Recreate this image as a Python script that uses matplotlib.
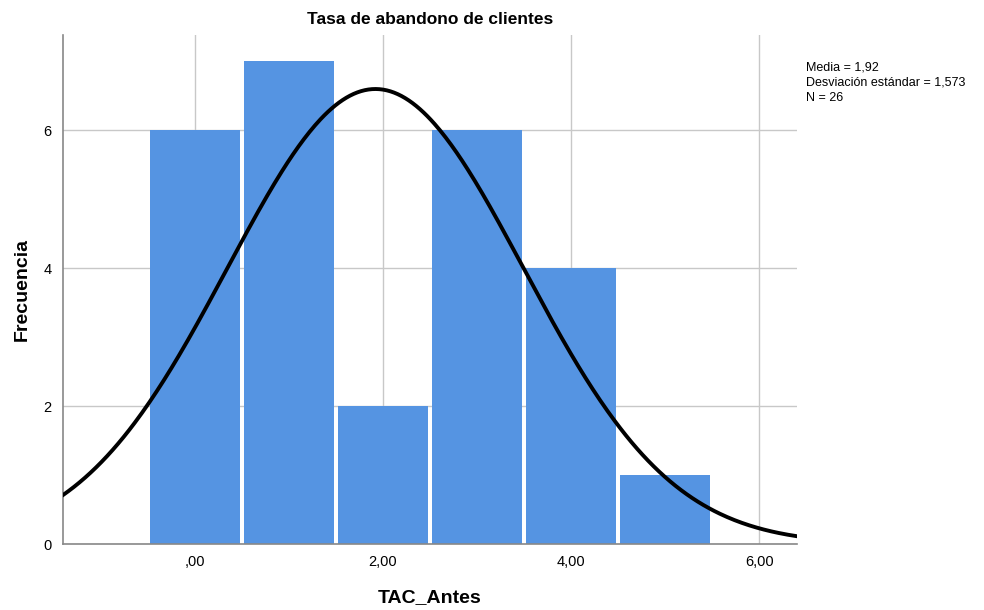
import numpy as np
import matplotlib
matplotlib.use("Agg")
import matplotlib.pyplot as plt

plt.rcParams["font.family"] = ["Liberation Sans", "DejaVu Sans"]

# histogram data (TAC_Antes)
bin_centers = [0, 1, 2, 3, 4, 5]
counts = [6, 7, 2, 6, 4, 1]
media = 1.92
desv = 1.573
n = 26

x_ticks = [0, 2, 4, 6]
x_labels = [",00", "2,00", "4,00", "6,00"]
y_ticks = [0, 2, 4, 6]

fig = plt.figure(figsize=(9.84, 6.10), dpi=100)
ax = fig.add_axes([0.064, 0.108, 0.746, 0.835])

ax.bar(bin_centers, counts, width=0.955, color="#5594E2",
       edgecolor="none", zorder=2)

# normal curve scaled to counts (bin width 1)
xs = np.linspace(-1.4, 6.4, 400)
ys = n * 1.0 / (desv * np.sqrt(2 * np.pi)) * np.exp(-0.5 * ((xs - media) / desv) ** 2)
ax.plot(xs, ys, color="black", linewidth=2.8, zorder=3)

ax.set_xlim(-1.4, 6.4)
ax.set_ylim(0, 7.38)
ax.set_xticks(x_ticks)
ax.set_xticklabels(x_labels)
ax.set_yticks(y_ticks)
ax.grid(True, color="#c8c8c8", linewidth=1.0, zorder=0)
ax.set_axisbelow(True)
ax.tick_params(length=0, labelsize=10.5, pad=8)
for s in ["top", "right"]:
    ax.spines[s].set_visible(False)
for s in ["left", "bottom"]:
    ax.spines[s].set_color("#888888")
    ax.spines[s].set_linewidth(1.2)

ax.set_title("Tasa de abandono de clientes", fontsize=12.5, fontweight="bold", pad=8)
ax.set_xlabel("TAC_Antes", fontsize=14, fontweight="bold", labelpad=14)
ax.set_ylabel("Frecuencia", fontsize=14, fontweight="bold", labelpad=9)

fig.text(0.819, 0.900, "Media = 1,92\nDesviación estándar = 1,573\nN = 26",
         fontsize=9, va="top", ha="left", linespacing=1.4)

fig.savefig("out.png", dpi=100)
